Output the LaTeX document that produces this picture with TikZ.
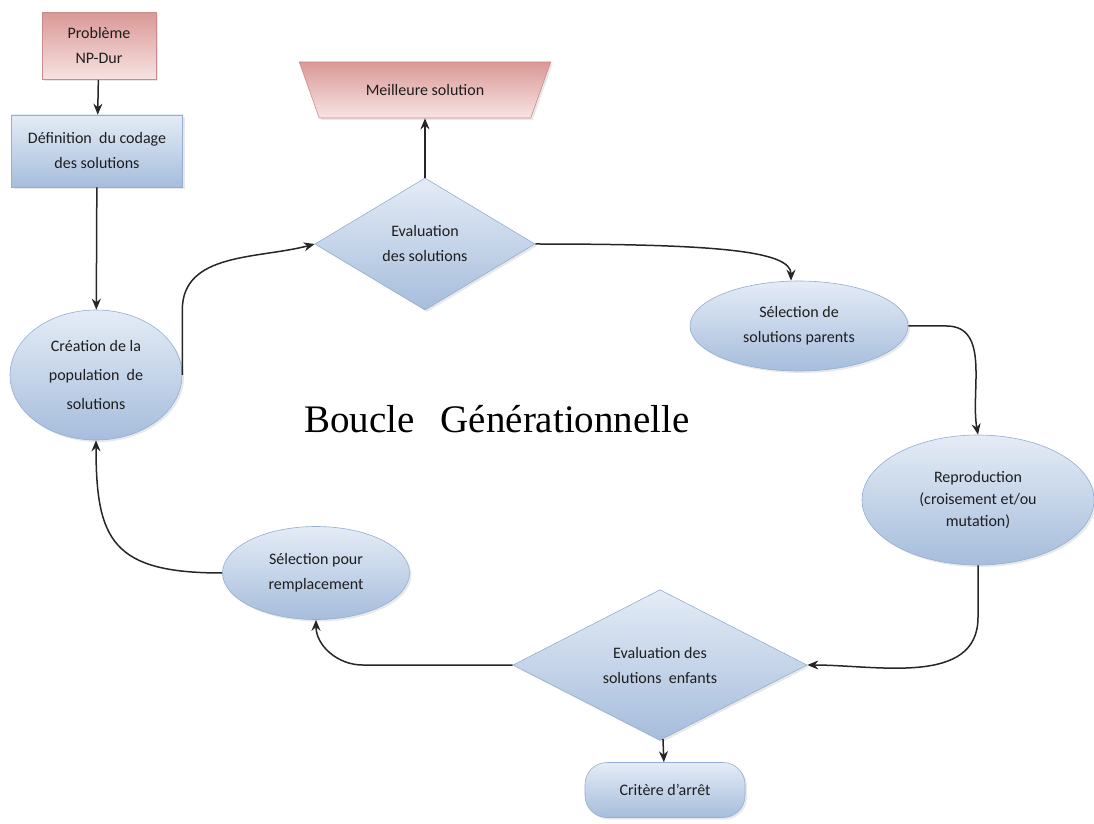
\documentclass[tikz,border=0pt]{standalone}
\usepackage{fontspec}
\setmainfont{Carlito}
\newfontfamily\titrefont{Liberation Serif}
\usetikzlibrary{shapes.geometric,arrows.meta,shadows}

\definecolor{bleuclair}{HTML}{E4ECF6}
\definecolor{bleufonce}{HTML}{A6BDDC}
\definecolor{bleutrait}{HTML}{93AED2}
\definecolor{roseclair}{HTML}{F7E4E3}
\definecolor{rosefonce}{HTML}{DA9896}
\definecolor{rosetrait}{HTML}{C98C8A}
\definecolor{texte}{HTML}{1E1E1E}

\tikzset{
  bleu/.style={draw=bleutrait, line width=0.6pt, top color=bleuclair,
    bottom color=bleufonce, text=texte, align=center, inner sep=0pt,
    drop shadow={opacity=0.18, shadow xshift=2pt, shadow yshift=-2pt}},
  rose/.style={bleu, draw=rosetrait, top color=rosefonce, bottom color=roseclair},
  fleche/.style={-{Stealth[length=11pt,width=9pt]}, line width=1.5pt, black!85},
}

\begin{document}
\begin{tikzpicture}[x=1pt,y=1pt,font=\fontsize{16}{25}\selectfont]
  \useasboundingbox (0,0) rectangle (1094,823);
  % entree et sortie
  \node[rose,rectangle,minimum width=114pt,minimum height=67pt] (probleme) at (99,777) {Problème\\NP-Dur};
  \node[rose,trapezium,trapezium stretches=true,shape border rotate=180,
        trapezium left angle=45,trapezium right angle=45,
        minimum width=252pt,minimum height=56pt] (meilleure) at (425,733) {Meilleure solution};
  \node[bleu,rectangle,minimum width=171pt,minimum height=72pt] (definition) at (97,672) {Définition~~du codage\\des solutions};
  % boucle
  \node[bleu,ellipse,minimum width=172pt,minimum height=130pt,font=\fontsize{16}{29}\selectfont] (creation) at (96,448) {Création de la\\population~~de\\solutions};
  \node[bleu,diamond,minimum width=220pt,minimum height=132pt] (evaluation) at (425,579) {Evaluation\\des solutions};
  \node[bleu,ellipse,minimum width=218pt,minimum height=90pt] (parents) at (799,497) {Sélection de\\solutions parents};
  \node[bleu,ellipse,minimum width=232pt,minimum height=130pt,font=\fontsize{16}{22}\selectfont] (reproduction) at (978,323) {Reproduction\\(croisement et/ou\\mutation)};
  \node[bleu,diamond,minimum width=294pt,minimum height=118pt] (enfants) at (660,158) {Evaluation des\\solutions~~enfants};
  \node[bleu,rectangle,rounded corners=22pt,minimum width=160pt,minimum height=55pt] (critere) at (665,33) {Critère d'arrêt};
  \node[bleu,ellipse,minimum width=187pt,minimum height=93pt] (remplacement) at (316,250) {Sélection pour\\remplacement};
  \node[font=\titrefont\fontsize{39}{40}\selectfont,anchor=base] (titre) at (497,391) {Boucle\hspace{26pt}Générationnelle};
  % fleches
  \draw[fleche] (probleme) -- (definition);
  \draw[fleche] (definition) -- (creation);
  \draw[fleche] (creation.east) -- ++(0,65) to[out=90,in=195] (evaluation.west);
  \draw[fleche] (evaluation) -- (meilleure);
  \draw[fleche] (evaluation.east) .. controls +(180,0) and +(0,30) .. ([xshift=-8pt]parents.north);
  \draw[fleche] (parents.east) -- ++(38,0) to[out=0,in=100] (reproduction.north);
  \draw[fleche] (reproduction.south) -- ++(0,-52) to[out=-90,in=0] (enfants.east);
  \draw[fleche] (enfants) -- (critere);
  \draw[fleche] (enfants.west) -- ++(-150,0) to[out=180,in=-90] (remplacement.south);
  \draw[fleche] (remplacement.west) .. controls +(-110,0) and +(0,-100) .. (creation.south);
\end{tikzpicture}
\end{document}
